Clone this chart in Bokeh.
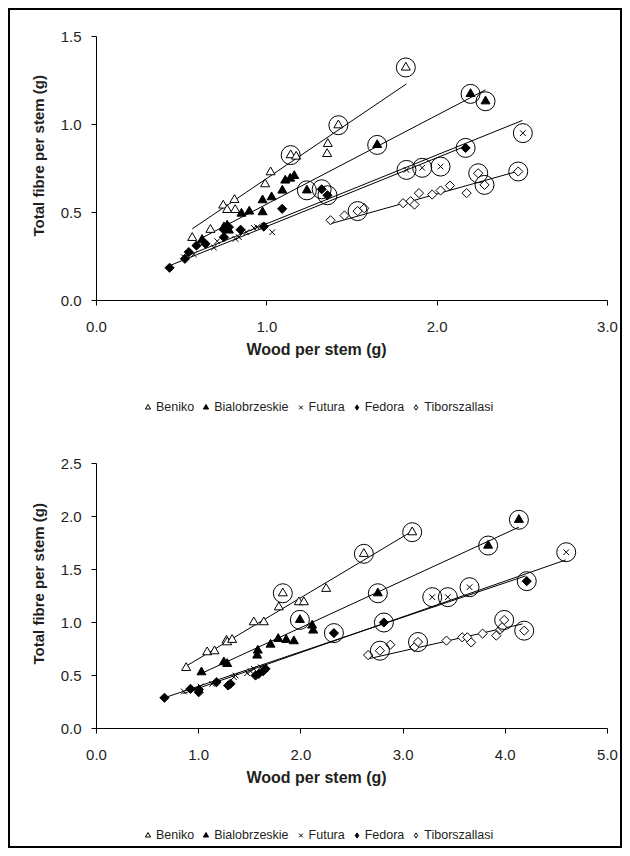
import numpy as np
from bokeh.plotting import figure
from bokeh.layouts import column
from bokeh.models import Range1d, FixedTicker, PrintfTickFormatter, Legend, LegendItem, Title
from bokeh.embed import file_html
from bokeh.resources import INLINE

series_names = ["Beniko", "Bialobrzeskie", "Futura", "Fedora", "Tiborszallasi"]

# ---------------- Top chart data ----------------
top_beniko_x = [0.562, 0.669, 0.744, 0.767, 0.810, 0.814, 0.990, 1.022, 1.140, 1.172, 1.358, 1.354, 1.420, 1.816]
top_beniko_y = [0.356, 0.402, 0.540, 0.515, 0.572, 0.515, 0.661, 0.729, 0.826, 0.818, 0.890, 0.833, 0.996, 1.324]
top_beniko_c = [0, 0, 0, 0, 0, 0, 0, 0, 1, 0, 0, 0, 1, 1]

top_bial_x = [0.620, 0.748, 0.767, 0.777, 0.851, 0.897, 0.975, 0.975, 1.028, 1.091, 1.108, 1.137, 1.161, 1.235, 1.648, 2.196, 2.284]
top_bial_y = [0.345, 0.417, 0.426, 0.398, 0.494, 0.506, 0.502, 0.570, 0.587, 0.625, 0.682, 0.693, 0.708, 0.626, 0.884, 1.174, 1.132]
top_bial_c = [0, 0, 0, 0, 0, 0, 0, 0, 0, 0, 0, 0, 0, 1, 1, 1, 1]

top_futura_x = [0.513, 0.571, 0.689, 0.709, 0.816, 0.836, 0.880, 0.924, 0.943, 0.982, 1.032, 1.820, 1.912, 2.020, 2.503]
top_futura_y = [0.246, 0.262, 0.301, 0.337, 0.350, 0.360, 0.388, 0.412, 0.417, 0.426, 0.388, 0.742, 0.754, 0.761, 0.951]
top_futura_c = [0, 0, 0, 0, 0, 0, 0, 0, 0, 0, 0, 1, 1, 1, 1]

top_fedora_x = [0.429, 0.519, 0.542, 0.587, 0.640, 0.748, 0.748, 0.760, 0.777, 0.846, 0.982, 1.090, 1.322, 1.356, 2.167]
top_fedora_y = [0.186, 0.237, 0.275, 0.312, 0.322, 0.360, 0.402, 0.410, 0.417, 0.402, 0.420, 0.521, 0.632, 0.598, 0.867]
top_fedora_c = [0, 0, 0, 0, 0, 0, 0, 0, 0, 0, 0, 0, 1, 1, 1]

top_tibor_x = [1.374, 1.456, 1.533, 1.572, 1.800, 1.844, 1.867, 1.893, 1.971, 2.020, 2.075, 2.173, 2.241, 2.278, 2.476]
top_tibor_y = [0.456, 0.483, 0.508, 0.524, 0.553, 0.564, 0.545, 0.610, 0.602, 0.625, 0.653, 0.610, 0.723, 0.657, 0.733]
top_tibor_c = [0, 0, 1, 0, 0, 0, 0, 0, 0, 0, 0, 0, 1, 1, 1]

# fitted lines (start, end)
top_fit_x = [[0.562, 1.820], [0.620, 2.284], [0.510, 2.500], [0.429, 2.167], [1.374, 2.476]]
top_fit_y = [[0.407, 1.231], [0.356, 1.197], [0.245, 1.023], [0.198, 0.877], [0.436, 0.735]]

# ---------------- Bottom chart data ----------------
bot_beniko_x = [0.877, 1.083, 1.155, 1.272, 1.279, 1.327, 1.539, 1.637, 1.784, 1.823, 1.980, 2.029, 2.247, 2.616, 3.089]
bot_beniko_y = [0.572, 0.720, 0.729, 0.830, 0.814, 0.837, 1.003, 1.003, 1.144, 1.276, 1.192, 1.192, 1.318, 1.648, 1.852]
bot_beniko_c = [0, 0, 0, 0, 0, 0, 0, 0, 0, 1, 0, 0, 0, 1, 1]

bot_bial_x = [1.027, 1.246, 1.279, 1.572, 1.578, 1.703, 1.778, 1.856, 1.931, 1.990, 2.110, 2.120, 2.753, 3.832, 4.133]
bot_bial_y = [0.531, 0.626, 0.610, 0.689, 0.736, 0.792, 0.846, 0.837, 0.824, 1.025, 0.972, 0.925, 1.276, 1.726, 1.969]
bot_bial_c = [0, 0, 0, 0, 0, 0, 0, 0, 0, 1, 0, 0, 1, 1, 1]

bot_futura_x = [0.855, 1.018, 1.132, 1.344, 1.360, 1.474, 1.507, 1.539, 1.605, 3.285, 3.438, 3.650, 4.596]
bot_futura_y = [0.349, 0.396, 0.421, 0.484, 0.500, 0.522, 0.541, 0.563, 0.578, 1.239, 1.239, 1.333, 1.663]
bot_futura_c = [0, 0, 0, 0, 0, 0, 0, 0, 0, 1, 1, 1, 1]

bot_fedora_x = [0.665, 0.920, 1.000, 1.000, 1.174, 1.288, 1.311, 1.556, 1.588, 1.631, 1.654, 2.323, 2.812, 4.210]
bot_fedora_y = [0.290, 0.374, 0.365, 0.342, 0.437, 0.406, 0.422, 0.500, 0.516, 0.541, 0.563, 0.900, 1.000, 1.390]
bot_fedora_c = [0, 0, 0, 0, 0, 0, 0, 0, 0, 0, 0, 1, 1, 1]

bot_tibor_x = [2.658, 2.773, 2.875, 3.110, 3.146, 3.424, 3.578, 3.628, 3.666, 3.778, 3.912, 3.952, 3.969, 3.989, 4.185]
bot_tibor_y = [0.693, 0.734, 0.790, 0.766, 0.816, 0.829, 0.860, 0.860, 0.812, 0.895, 0.876, 0.935, 0.956, 1.024, 0.923]
bot_tibor_c = [0, 1, 0, 0, 1, 0, 0, 0, 0, 0, 0, 0, 0, 1, 1]

bot_fit_x = [[0.871, 3.090], [1.018, 4.133], [0.850, 4.590], [0.665, 4.200], [2.658, 4.170]]
bot_fit_y = [[0.585, 1.862], [0.516, 1.900], [0.330, 1.590], [0.290, 1.440], [0.657, 0.987]]

top_x_ticks = [0.0, 1.0, 2.0, 3.0]
top_y_ticks = [0.0, 0.5, 1.0, 1.5]
bot_x_ticks = [0.0, 1.0, 2.0, 3.0, 4.0, 5.0]
bot_y_ticks = [0.0, 0.5, 1.0, 1.5, 2.0, 2.5]

x_title = "Wood per stem (g)"
y_title = "Total fibre per stem (g)"

FONT = "Liberation Sans"
TXT = "#231f20"

styles = [
    dict(marker="triangle", size=9, fill_color="white", line_color="black", angle=0.0),
    dict(marker="triangle", size=9, fill_color="black", line_color="black", angle=0.0),
    dict(marker="x", size=8, fill_color=None, line_color="black", angle=0.0),
    dict(marker="square", size=6.5, fill_color="black", line_color="black", angle=np.pi / 4),
    dict(marker="square", size=6.5, fill_color="white", line_color="black", angle=np.pi / 4),
]
legend_markers = ["triangle", "triangle", "x", "diamond", "diamond"]

W = 610


def make_chart(series, fit_x, fit_y, xr, yr, xt, yt, top_border, plot_h, fig_h):
    p = figure(width=W, height=fig_h, x_range=Range1d(*xr), y_range=Range1d(*yr),
               output_backend="svg", toolbar_location=None,
               min_border_left=86, min_border_right=13, min_border_top=top_border,
               min_border_bottom=fig_h - top_border - plot_h)
    p.outline_line_color = None
    p.grid.visible = False
    p.background_fill_color = "white"
    p.border_fill_color = "white"

    for i in range(len(series)):
        p.line(fit_x[i], fit_y[i], line_color="black", line_width=1)

    for i, (sx, sy, sc) in enumerate(series):
        st = styles[i]
        p.scatter(sx, sy, marker=st["marker"], size=st["size"], fill_color=st["fill_color"],
                  line_color=st["line_color"], line_width=1, angle=st["angle"])
    for i, (sx, sy, sc) in enumerate(series):
        cx = [x for x, c in zip(sx, sc) if c]
        cy = [y for y, c in zip(sy, sc) if c]
        p.scatter(cx, cy, marker="circle", size=19, fill_color=None, line_color="black", line_width=1)

    for ax in (p.xaxis[0], p.yaxis[0]):
        ax.axis_line_color = "black"
        ax.major_tick_line_color = "black"
        ax.minor_tick_line_color = None
        ax.major_tick_in = 0
        ax.major_tick_out = 5
        ax.major_label_text_font = FONT
        ax.major_label_text_font_size = "15px"
        ax.major_label_text_color = TXT
        ax.formatter = PrintfTickFormatter(format="%.1f")
    p.xaxis[0].ticker = FixedTicker(ticks=xt)
    p.yaxis[0].ticker = FixedTicker(ticks=yt)
    p.xaxis[0].major_label_standoff = 16
    p.yaxis[0].major_label_standoff = 10

    xt_title = Title(text=x_title, align="left", offset=150, standoff=8,
                     text_font=FONT, text_font_size="16px", text_font_style="bold", text_color=TXT)
    p.add_layout(xt_title, "below")
    yt_title = Title(text=y_title, align="left", offset=64, standoff=21,
                     text_font=FONT, text_font_size="15px", text_font_style="bold", text_color=TXT)
    p.add_layout(yt_title, "left")
    return p


def make_legend_fig(series, h):
    # the series are drawn again, outside the visible range, only to feed the legend glyphs
    lp = figure(width=W, height=h, x_range=Range1d(100, 101), y_range=Range1d(100, 101),
                output_backend="svg", toolbar_location=None, x_axis_type=None, y_axis_type=None,
                min_border=0)
    lp.outline_line_color = None
    lp.grid.visible = False
    items = []
    for i, name in enumerate(series_names):
        st = styles[i]
        sx, sy, sc = series[i]
        r = lp.scatter(sx, sy, marker=legend_markers[i], size=st["size"], fill_color=st["fill_color"],
                       line_color=st["line_color"], line_width=1)
        items.append(LegendItem(label=name, renderers=[r]))
    legend = Legend(items=items, orientation="horizontal", location=(45, 3),
                    border_line_color=None, background_fill_alpha=0,
                    label_text_font=FONT, label_text_font_size="12.5px", label_text_color=TXT,
                    glyph_width=13, glyph_height=16, label_standoff=2, spacing=5,
                    padding=0, margin=0, label_height=16)
    lp.add_layout(legend, "center")
    return lp


top_series = [(top_beniko_x, top_beniko_y, top_beniko_c), (top_bial_x, top_bial_y, top_bial_c),
              (top_futura_x, top_futura_y, top_futura_c), (top_fedora_x, top_fedora_y, top_fedora_c),
              (top_tibor_x, top_tibor_y, top_tibor_c)]
bot_series = [(bot_beniko_x, bot_beniko_y, bot_beniko_c), (bot_bial_x, bot_bial_y, bot_bial_c),
              (bot_futura_x, bot_futura_y, bot_futura_c), (bot_fedora_x, bot_fedora_y, bot_fedora_c),
              (bot_tibor_x, bot_tibor_y, bot_tibor_c)]

p1 = make_chart(top_series, top_fit_x, top_fit_y, (0, 3), (0, 1.5), top_x_ticks, top_y_ticks,
                26, 264, 386)
l1 = make_legend_fig(top_series, 22)
p2 = make_chart(bot_series, bot_fit_x, bot_fit_y, (0, 5), (0, 2.5), bot_x_ticks, bot_y_ticks,
                45, 265, 406)
l2 = make_legend_fig(bot_series, 22)

layout = column(p1, l1, p2, l2, spacing=0,
                styles={"border": "2px solid black", "background": "white", "margin": "8px"})

open("out.html", "w").write(file_html(layout, INLINE))
